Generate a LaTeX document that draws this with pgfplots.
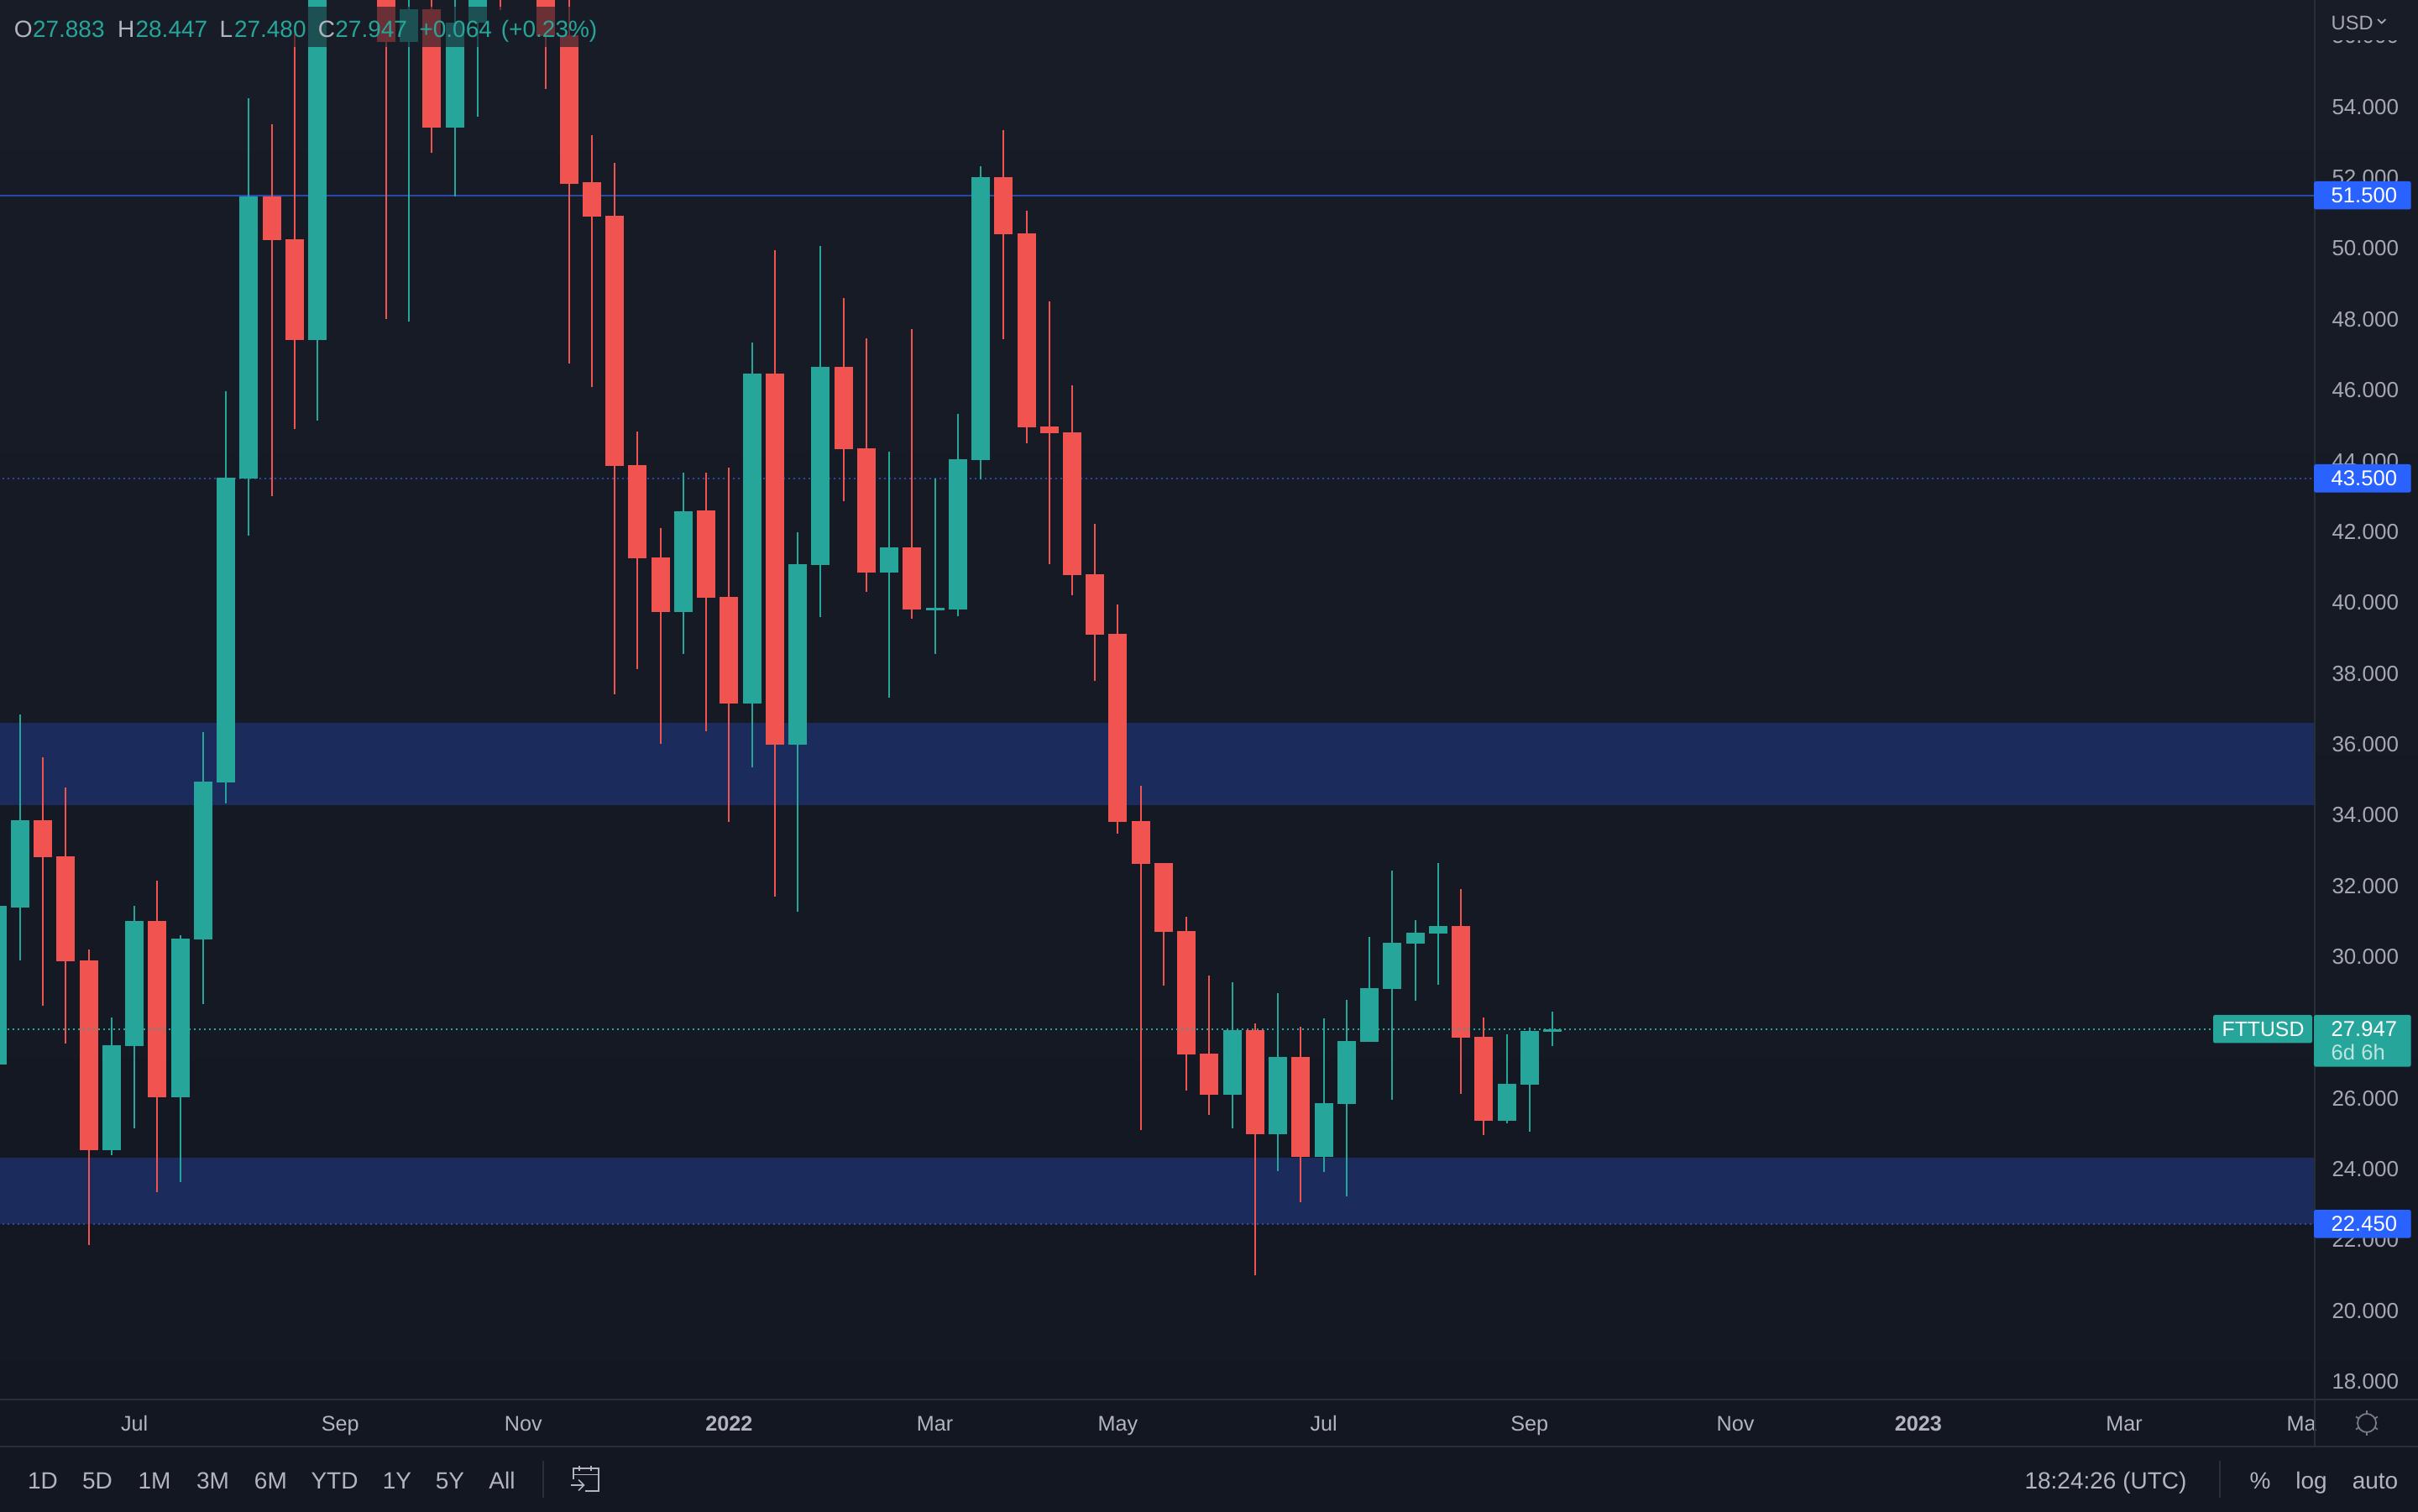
\documentclass[border=0pt]{standalone}
\usepackage{fontspec}
\setmainfont{Liberation Sans}
\usepackage{pgfplots}
\usepackage{pgfplotstable}
\pgfplotsset{compat=1.18}
\definecolor{bgtop}{HTML}{181C27}
\definecolor{bgbot}{HTML}{131722}
\definecolor{up}{HTML}{26A69A}
\definecolor{down}{HTML}{F05350}
\definecolor{zone}{HTML}{1A2B5C}
\definecolor{lvl}{HTML}{2849A8}
\definecolor{tagblue}{HTML}{2962FF}
\definecolor{sep}{HTML}{2A2E39}
\definecolor{txt}{HTML}{B2B5BE}
\definecolor{axtxt}{HTML}{A6A9B2}
\definecolor{icon}{HTML}{787B86}
% columns: week index, body top, body bottom, high, low
\pgfplotstableread{
i top bot high low
0 31.43 26.95 31.43 26.95
1 33.86 31.39 36.84 29.89
5 27.50 24.53 28.28 24.39
6 31.01 27.47 31.43 25.14
8 30.51 26.03 30.61 23.63
9 34.95 30.48 36.34 28.66
10 43.53 34.92 45.97 34.33
11 51.47 43.50 54.25 41.88
14 58.50 47.42 59.50 45.14
18 56.76 55.84 58.80 47.94
20 56.38 53.42 58.80 51.47
21 58.00 56.38 59.00 53.73
30 42.58 39.74 43.67 38.55
33 46.47 37.15 47.35 35.34
35 41.09 35.98 41.99 31.26
36 46.66 41.06 50.07 39.59
39 41.56 40.85 44.26 37.32
41 39.85 39.78 43.50 38.55
42 44.05 39.80 45.33 39.62
43 52.02 44.03 52.33 43.48
54 27.92 26.10 29.27 25.15
56 27.17 24.98 28.96 23.94
58 25.86 24.35 28.25 23.91
59 27.61 25.83 28.77 23.23
60 29.11 27.58 30.55 27.58
61 30.39 29.08 32.43 25.95
62 30.67 30.36 31.03 28.76
63 30.87 30.65 32.64 29.21
66 26.41 25.36 27.81 25.29
67 27.90 26.38 27.99 25.05
68 27.947 27.883 28.447 27.480
}\upt
\pgfplotstableread{
i top bot high low
2 33.86 32.81 35.64 28.61
3 32.83 29.87 34.78 27.55
4 29.89 24.53 30.21 21.85
7 31.01 26.03 32.15 23.35
12 51.47 50.24 53.51 43.01
13 50.26 47.42 56.07 44.91
17 58.50 55.84 59.00 48.01
19 56.76 53.42 58.80 52.71
22 59.00 57.50 59.50 56.74
24 58.50 56.00 59.00 54.51
25 56.03 51.83 58.50 46.75
26 51.88 50.90 53.20 46.09
27 50.93 43.86 52.42 37.41
28 43.89 41.25 44.83 38.12
29 41.27 39.74 42.11 36.01
31 42.60 40.14 43.67 36.37
32 40.16 37.15 43.81 33.81
34 46.47 35.98 49.95 31.69
37 46.66 44.33 48.60 42.86
38 44.36 40.85 47.46 40.30
40 41.56 39.80 47.73 39.54
44 52.02 50.40 53.35 47.44
45 50.43 44.95 51.07 44.50
46 44.97 44.78 48.51 41.09
47 44.81 40.78 46.14 40.21
48 40.80 39.09 42.22 37.79
49 39.12 33.81 39.94 33.47
50 33.83 32.62 34.82 25.10
51 32.64 30.70 32.64 29.18
52 30.72 27.23 31.12 26.21
53 27.26 26.10 29.46 25.53
55 27.92 24.98 28.12 21.00
57 27.17 24.35 28.03 23.06
64 30.87 27.71 31.90 26.12
65 27.73 25.36 28.28 24.96
}\downt
\newcommand{\candles}[2]{%
  \addplot[draw=none,mark=none,forget plot,
    error bars/.cd,y dir=minus,y explicit,error mark=none,
    error bar style={line width=0.5pt,color=#2}]
    table[x=i,y=high,y error minus expr=\thisrow{high}-\thisrow{low}]{#1};
  \addplot[draw=none,mark=none,forget plot,
    error bars/.cd,y dir=minus,y explicit,error mark=none,
    error bar style={line width=5.5pt,color=#2}]
    table[x=i,y=top,y error minus expr=\thisrow{top}-\thisrow{bot}]{#1};
}
\begin{document}
\begin{tikzpicture}
\useasboundingbox (0,0) rectangle (720pt,450pt);
\shade[top color=bgtop,bottom color=bgbot,shading angle=0] (0,0) rectangle (720pt,450pt);
\begin{axis}[
  at={(0pt,33.25pt)},anchor=south west,scale only axis,
  width=689.175pt,height=416.75pt,
  xmin=0.121,xmax=101.32,ymin=17.49,ymax=57.02,
  axis line style={draw=none},tick style={draw=none},major tick length=0pt,
  ytick={18,20,...,56},
  ytick pos=right,yticklabel pos=right,scaled y ticks=false,
  yticklabel style={anchor=west,xshift=5pt,inner sep=0pt,color=axtxt,font=\fontsize{6.5pt}{7pt}\selectfont,
    /pgf/number format/fixed,/pgf/number format/fixed zerofill,
    /pgf/number format/precision=3,/pgf/number format/assume math mode=true},
  xtick={6,15,23,32,41,49,58,67,76,84,93,100.75},
  xticklabels={Jul,Sep,Nov,\textbf{2022},Mar,May,Jul,Sep,Nov,\textbf{2023},Mar,Ma},
  xticklabel style={anchor=base,yshift=-9.25pt,inner sep=0pt,color=txt,font=\fontsize{6.3pt}{7pt}\selectfont},
]
\addplot[fill=zone,draw=none,forget plot] coordinates {(0,34.27)(102,34.27)(102,36.60)(0,36.60)};
\addplot[fill=zone,draw=none,forget plot] coordinates {(0,22.45)(102,22.45)(102,24.32)(0,24.32)};
\addplot[lvl,line width=0.5pt,forget plot] coordinates {(0,51.5)(102,51.5)};
\addplot[lvl,line width=0.5pt,dash pattern=on 0.5pt off 1pt,forget plot] coordinates {(0,43.5)(102,43.5)};
\addplot[lvl,line width=0.5pt,dash pattern=on 0.5pt off 1pt,forget plot] coordinates {(0,22.45)(102,22.45)};
\candles{\upt}{up}
\candles{\downt}{down}
\addplot[up,line width=0.5pt,dash pattern=on 0.5pt off 1pt,forget plot] coordinates {(0,27.947)(102,27.947)};
\end{axis}
\begin{scope}[x=0.25pt,y=-0.25pt,yshift=450pt,
  every node/.style={inner sep=0pt,outer sep=0pt}]
% frame lines
\fill[bgtop] (2758,0) rectangle (2880,48);
\draw[sep,line width=0.5pt] (2756.7,0) -- (2756.7,1723);
\draw[sep,line width=0.5pt] (0,1667) -- (2880,1667);
\draw[sep,line width=0.5pt] (0,1723) -- (2880,1723);
% legend
\fill[bgtop,opacity=0.62] (0,8) rectangle (710,56);
\begin{scope}[every node/.append style={anchor=base west,font=\fontsize{7pt}{8pt}\selectfont}]
\node[txt] at (17,45) {O}; \node[up] at (39,45) {27.883};
\node[txt] at (140,45) {H}; \node[up] at (161.6,45) {28.447};
\node[txt] at (261.7,45) {L}; \node[up] at (279,45) {27.480};
\node[txt] at (378.8,45) {C}; \node[up] at (399.4,45) {27.947};
\node[up] at (499.5,45) {+0.064}; \node[up] at (596.9,45) {(+0.23\%)};
\end{scope}
% USD
\node[axtxt,anchor=west,font=\fontsize{5.9pt}{7pt}\selectfont] at (2776.7,27) {USD};
\draw[axtxt,line width=0.45pt] (2832,23) -- (2836.7,27.5) -- (2841.4,23);
% price tags
\fill[tagblue,rounded corners=0.6pt] (2756,216) rectangle (2871.7,249.5);
\fill[tagblue,rounded corners=0.6pt] (2756,553) rectangle (2871.7,586.7);
\fill[tagblue,rounded corners=0.6pt] (2756,1441) rectangle (2871.7,1474.6);
\fill[up,rounded corners=0.6pt] (2756,1208.9) rectangle (2871.7,1270.6);
\fill[up,rounded corners=0.6pt] (2636,1208.9) rectangle (2754,1242.5);
\begin{scope}[every node/.append style={anchor=west,text=white,font=\fontsize{6.4pt}{7pt}\selectfont}]
\node at (2776.7,232.8) {51.500};
\node at (2776.7,570) {43.500};
\node at (2776.7,1458) {22.450};
\node at (2776.7,1226) {27.947};
\node[text=white!70!up] at (2776.7,1253) {6d 6h};
\end{scope}
\node[white,font=\fontsize{6.2pt}{7pt}\selectfont] at (2695.5,1226) {FTTUSD};
% sun icon
\draw[icon,line width=0.45pt] (2819,1695) circle [radius=2.75pt];
\foreach \a in {30,90,150,210,270,330}
  \draw[icon,line width=0.45pt] (2819,1695) ++(\a:2.75pt) -- ++(\a:1pt);
% toolbar
\begin{scope}[every node/.append style={anchor=base,text=txt,font=\fontsize{7pt}{8pt}\selectfont}]
\node at (51,1773) {1D};
\node at (116,1773) {5D};
\node at (184,1773) {1M};
\node at (253.6,1773) {3M};
\node at (322.4,1773) {6M};
\node at (398.5,1773) {YTD};
\node at (473,1773) {1Y};
\node at (536,1773) {5Y};
\node at (598,1773) {All};
\node at (2508,1773) {18:24:26 (UTC)};
\node at (2692,1773) {\%};
\node at (2753,1773) {log};
\node at (2829,1773) {auto};
\end{scope}
\draw[sep,line width=0.5pt] (647,1740) -- (647,1784);
\draw[sep,line width=0.5pt] (2644,1740) -- (2644,1784);
% calendar icon
\draw[txt,line width=0.4pt] (683,1762) -- (683,1749) -- (713,1749) -- (713,1776) -- (697,1776);
\draw[txt,line width=0.4pt] (683,1756.5) -- (713,1756.5);
\draw[txt,line width=0.4pt] (690,1746) -- (690,1752);
\draw[txt,line width=0.4pt] (704,1746) -- (704,1752);
\draw[txt,line width=0.4pt] (680,1769) -- (695,1769);
\draw[txt,line width=0.4pt] (689,1762.5) -- (695.5,1769) -- (689,1775.5);
\end{scope}
\end{tikzpicture}
\end{document}
